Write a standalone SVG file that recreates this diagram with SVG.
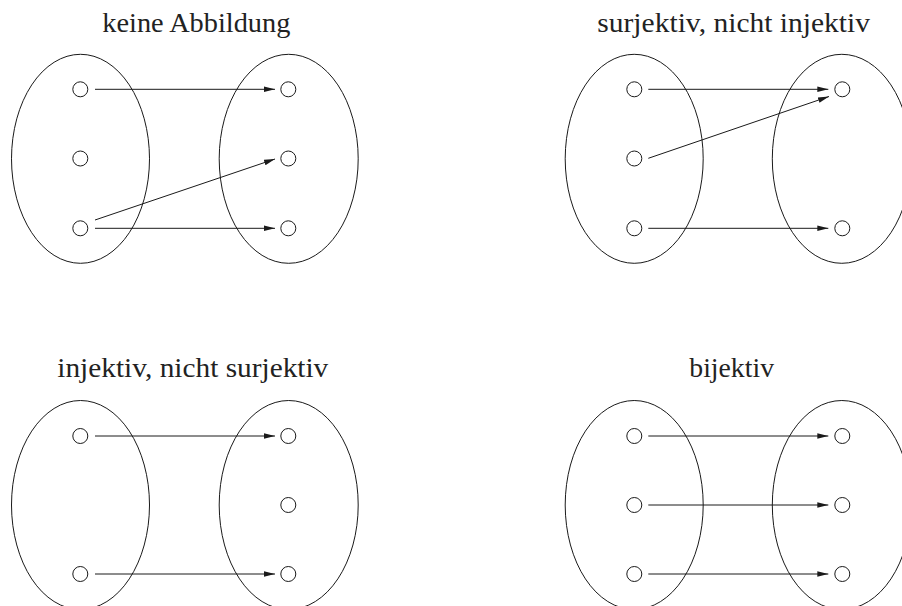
<svg xmlns="http://www.w3.org/2000/svg" width="902" height="606" viewBox="0 0 902 606">
<defs>
<style>
.set{fill:none;stroke:#1a1a1a;stroke-width:1}
.el{fill:#fff;stroke:#1a1a1a;stroke-width:1}
.arr{fill:none;stroke:#1a1a1a;stroke-width:1;marker-end:url(#ah)}
.title{font-family:"Liberation Serif","DejaVu Serif","Times New Roman",serif;font-size:27px;fill:#222}
</style>
<marker id="ah" markerUnits="userSpaceOnUse" markerWidth="12" markerHeight="8" refX="11" refY="3" orient="auto" viewBox="0 0 12 6">
<path d="M0,0.2 L11,3 L0,5.8 Z" fill="#1a1a1a"/>
</marker>
</defs>
<rect width="902" height="606" fill="#fff"/>

<g id="panel-keine-abbildung">
<text class="title" x="102.3" y="32" textLength="188" lengthAdjust="spacingAndGlyphs">keine Abbildung</text>
<g id="tl-A"><ellipse class="set" cx="80.5" cy="158.8" rx="69" ry="104.5"/></g>
<g id="tl-B"><ellipse class="set" cx="288.7" cy="158.8" rx="69.5" ry="104.5"/></g>
<g id="tl-a1"><circle class="el" cx="80.3" cy="89.3" r="7.5"/></g>
<g id="tl-a2"><circle class="el" cx="80.3" cy="158.5" r="7.5"/></g>
<g id="tl-a3"><circle class="el" cx="80.3" cy="228.3" r="7.5"/></g>
<g id="tl-b1"><circle class="el" cx="288.3" cy="89.3" r="7.5"/></g>
<g id="tl-b2"><circle class="el" cx="288.3" cy="158.5" r="7.5"/></g>
<g id="tl-b3"><circle class="el" cx="288.3" cy="228.3" r="7.5"/></g>
</g>

<g id="panel-surjektiv">
<text class="title" x="597.3" y="32" textLength="272.7" lengthAdjust="spacingAndGlyphs">surjektiv, nicht injektiv</text>
<g id="tr-A"><ellipse class="set" cx="634.2" cy="158.8" rx="69" ry="104.5"/></g>
<g id="tr-B"><ellipse class="set" cx="841.8" cy="158.8" rx="69.5" ry="104.5"/></g>
<g id="tr-a1"><circle class="el" cx="634.3" cy="89.3" r="7.5"/></g>
<g id="tr-a2"><circle class="el" cx="634.3" cy="158.5" r="7.5"/></g>
<g id="tr-a3"><circle class="el" cx="634.3" cy="228.3" r="7.5"/></g>
<g id="tr-b1"><circle class="el" cx="842.3" cy="89.3" r="7.5"/></g>
<g id="tr-b3"><circle class="el" cx="842.3" cy="228.3" r="7.5"/></g>
</g>

<g id="panel-injektiv">
<text class="title" x="57.3" y="377" textLength="271" lengthAdjust="spacingAndGlyphs">injektiv, nicht surjektiv</text>
<g id="bl-A"><ellipse class="set" cx="80.5" cy="505" rx="69" ry="104.5"/></g>
<g id="bl-B"><ellipse class="set" cx="288.7" cy="505" rx="69.5" ry="104.5"/></g>
<g id="bl-a1"><circle class="el" cx="80.3" cy="436" r="7.5"/></g>
<g id="bl-a3"><circle class="el" cx="80.3" cy="574" r="7.5"/></g>
<g id="bl-b1"><circle class="el" cx="288.3" cy="436" r="7.5"/></g>
<g id="bl-b2"><circle class="el" cx="288.3" cy="505" r="7.5"/></g>
<g id="bl-b3"><circle class="el" cx="288.3" cy="574" r="7.5"/></g>
</g>

<g id="panel-bijektiv">
<text class="title" x="689.3" y="377" textLength="84.7" lengthAdjust="spacingAndGlyphs">bijektiv</text>
<g id="br-A"><ellipse class="set" cx="634.2" cy="505" rx="69" ry="104.5"/></g>
<g id="br-B"><ellipse class="set" cx="841.8" cy="505" rx="69.5" ry="104.5"/></g>
<g id="br-a1"><circle class="el" cx="634.3" cy="436" r="7.5"/></g>
<g id="br-a2"><circle class="el" cx="634.3" cy="505" r="7.5"/></g>
<g id="br-a3"><circle class="el" cx="634.3" cy="574" r="7.5"/></g>
<g id="br-b1"><circle class="el" cx="842.3" cy="436" r="7.5"/></g>
<g id="br-b2"><circle class="el" cx="842.3" cy="505" r="7.5"/></g>
<g id="br-b3"><circle class="el" cx="842.3" cy="574" r="7.5"/></g>
</g>

<g id="connectors">
<line class="arr" x1="95" y1="89.3" x2="275" y2="89.3"/>
<line class="arr" x1="95" y1="220" x2="275" y2="159"/>
<line class="arr" x1="95" y1="228.3" x2="275" y2="228.3"/>

<line class="arr" x1="648.3" y1="89.3" x2="828.3" y2="89.3"/>
<line class="arr" x1="648.3" y1="158.3" x2="829" y2="96.5"/>
<line class="arr" x1="648.3" y1="228.3" x2="828.3" y2="228.3"/>

<line class="arr" x1="95" y1="436" x2="275" y2="436"/>
<line class="arr" x1="95" y1="574" x2="275" y2="574"/>

<line class="arr" x1="648.3" y1="436" x2="828.3" y2="436"/>
<line class="arr" x1="648.3" y1="505" x2="828.3" y2="505"/>
<line class="arr" x1="648.3" y1="574" x2="828.3" y2="574"/>
</g>
</svg>
